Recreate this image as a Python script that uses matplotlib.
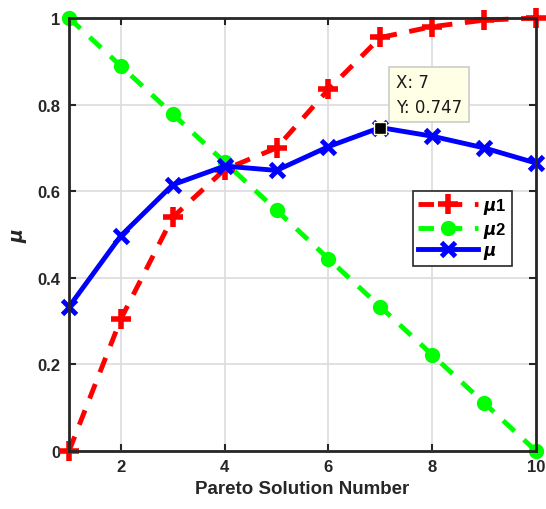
import matplotlib
matplotlib.use("Agg")
import matplotlib.pyplot as plt

plt.rcParams['font.family'] = ['Liberation Sans', 'DejaVu Sans']

x = [1, 2, 3, 4, 5, 6, 7, 8, 9, 10]
mu1 = [0.0, 0.305, 0.54, 0.65, 0.70, 0.835, 0.955, 0.98, 0.995, 1.0]
mu2 = [1.0, 0.889, 0.778, 0.667, 0.556, 0.444, 0.333, 0.222, 0.111, 0.0]
mu = [0.333, 0.497, 0.615, 0.658, 0.648, 0.703, 0.747, 0.727, 0.70, 0.665]
xticks = [2, 4, 6, 8, 10]
yticks = [0, 0.2, 0.4, 0.6, 0.8, 1]
ytick_labels = ['0', '0.2', '0.4', '0.6', '0.8', '1']
tip_x, tip_y = 7, 0.747

fig = plt.figure(figsize=(5.46, 5.10), dpi=100)
ax = fig.add_axes([69/546, 1-452/510, (536-69)/546, (452-19)/510])

ax.plot(x, mu1, color='#ff0000', ls=(0, (3.2, 2.6)), lw=3.5, marker='+', ms=14, mew=4,
        label=r'$\mathbfit{\mu}$1', clip_on=False, zorder=3)
ax.plot(x, mu2, color='#00ff00', ls=(0, (3.2, 2.6)), lw=3.5, marker='o', ms=9, mew=2,
        label=r'$\mathbfit{\mu}$2', clip_on=False, zorder=3)
ax.plot(x, mu, color='#0000ff', ls='-', lw=3.5, marker='x', ms=10, mew=3.5,
        label=r'$\mathbfit{\mu}$', clip_on=False, zorder=4)

ax.plot([tip_x], [tip_y], marker='s', color='black', ms=9, mec='#ffffe1', mew=1, zorder=10)
ax.text(tip_x + 0.3, tip_y + 0.125, f'X: {tip_x}\nY: {tip_y}', fontsize=12, color='#1a1a1a',
        va='top', ha='left', linespacing=1.45, family='DejaVu Sans',
        bbox=dict(boxstyle='square,pad=0.4', fc='#ffffe6', ec='#cccccc', lw=1.2), zorder=11)

ax.set_xlim(1, 10)
ax.set_ylim(0, 1)
ax.set_xticks(xticks)
ax.set_yticks(yticks)
ax.set_yticklabels(ytick_labels)
ax.grid(True, color='#dcdcdc', lw=1.2)
ax.set_axisbelow(True)
ax.tick_params(direction='in', length=5, width=1.5, top=True, right=True, labelsize=12,
               labelcolor='#262626', colors='#262626', pad=6)
for lab in ax.get_xticklabels() + ax.get_yticklabels():
    lab.set_fontweight('bold')
for sp in ax.spines.values():
    sp.set_linewidth(2)
    sp.set_color('#262626')
    sp.set_zorder(5)

ax.set_xlabel('Pareto Solution Number', fontsize=13.5, fontweight='bold', color='#262626', labelpad=4)
ax.set_ylabel(r'$\mathbfit{\mu}$', fontsize=13.5, color='#262626', labelpad=6)

leg = ax.legend(loc='upper left', bbox_to_anchor=(0.737, 0.60), frameon=True, fancybox=False,
                edgecolor='#262626', framealpha=1, prop={'weight': 'bold', 'size': 12},
                handlelength=3.6, borderpad=0.3, labelspacing=0.2, handletextpad=0.3,
                borderaxespad=0)
leg.get_frame().set_linewidth(1.2)
leg.set_zorder(12)

fig.savefig('out.png', dpi=100)
